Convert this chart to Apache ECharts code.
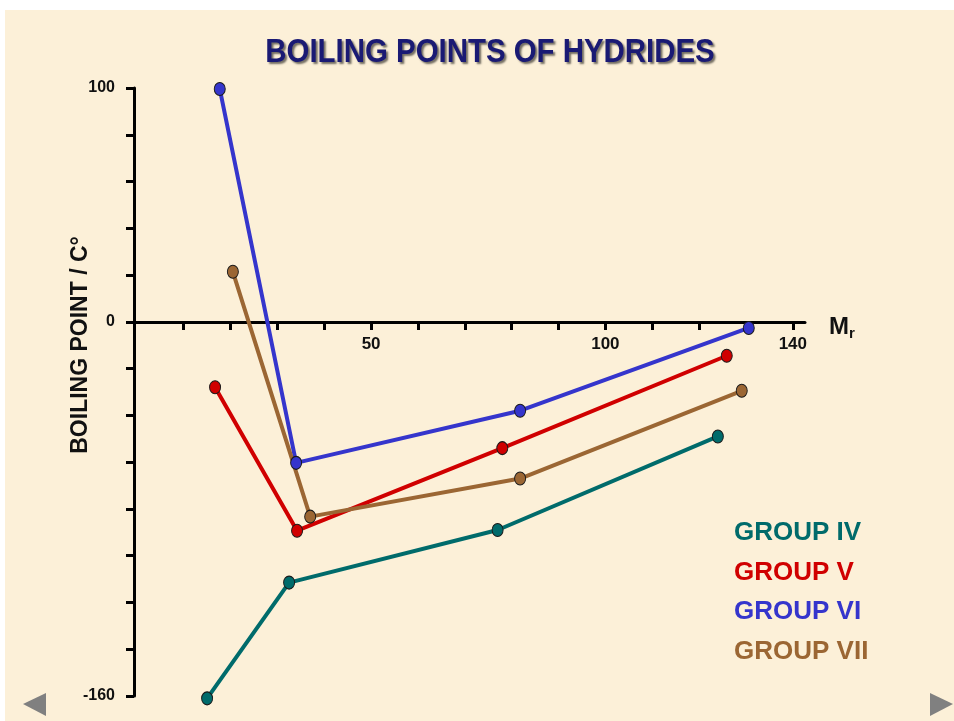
<!DOCTYPE html>
<html>
<head>
<meta charset="utf-8">
<script src="https://cdn.jsdelivr.net/npm/echarts@6/dist/echarts.min.js"></script>
<style>
  html, body { margin: 0; padding: 0; background: #fff; }
  #chart { width: 954px; height: 721px; }
</style>
</head>
<body>
<div id="chart"></div>
<script>
// boiling points of hydrides
const groupIV = [[15, -161], [32.5, -111.5], [77, -89], [124, -49]]
const groupV = [[16.7, -28], [34.2, -89.3], [78, -54], [125.9, -14.5]]
const groupVI = [[17.7, 99.6], [34, -60.3], [81.8, -38], [130.6, -2.6]]
const groupVII = [[20.5, 21.4], [37, -83.3], [81.8, -67], [129.1, -29.5]]
const groupNames = ['GROUP IV', 'GROUP V', 'GROUP VI', 'GROUP VII']
const groupColors = ['#006b6b', '#d00000', '#3535cc', '#9b6633']
const xTicks = [10, 20, 30, 40, 50, 60, 70, 80, 90, 100, 110, 120, 130, 140]
const xLabels = [50, 100, 140]
const yLabels = [100, 0, -160]

const chart = echarts.init(document.getElementById('chart'))

function makeSeries (name, data, color) {
  return {
    name: name,
    type: 'line',
    data: data,
    clip: false,
    symbol: 'circle',
    symbolSize: [11, 13],
    showSymbol: true,
    lineStyle: { width: 4, color: color },
    itemStyle: { color: color, borderColor: '#1a1a1a', borderWidth: 1 },
    emphasis: { disabled: true },
    z: 3
  }
}

const option = {
  backgroundColor: '#ffffff',
  animation: false,
  graphic: [
    {
      type: 'rect',
      z: -10,
      silent: true,
      shape: { x: 5, y: 10, width: 949, height: 711 },
      style: { fill: '#fcf0d8' }
    },
    {
      type: 'text',
      x: 490,
      y: 53,
      scaleX: 0.865,
      originX: 0,
      style: {
        text: 'BOILING POINTS OF HYDRIDES',
        fill: '#1a1a74',
        font: 'bold 34px "Liberation Sans", Arial, sans-serif',
        align: 'center',
        verticalAlign: 'middle',
        textShadowColor: 'rgba(0,0,0,0.55)',
        textShadowOffsetX: 2,
        textShadowOffsetY: 2,
        textShadowBlur: 2
      }
    },
    {
      type: 'text',
      x: 81,
      y: 345,
      rotation: Math.PI / 2,
      style: {
        text: 'BOILING POINT / C°',
        fill: '#111',
        font: 'bold 23px "Liberation Sans", Arial, sans-serif',
        align: 'center',
        verticalAlign: 'middle'
      }
    },
    {
      type: 'text',
      x: 829,
      y: 313,
      style: {
        rich: {
          m: { font: 'bold 24px "Liberation Sans", Arial, sans-serif', fill: '#111' },
          r: { font: 'bold 15px "Liberation Sans", Arial, sans-serif', fill: '#111', padding: [13, 0, 0, 0] }
        },
        text: '{m|M}{r|r}'
      }
    },
    {
      type: 'polygon',
      shape: { points: [[23, 704], [46, 693], [46, 716]] },
      style: { fill: '#808080' }
    },
    {
      type: 'polygon',
      shape: { points: [[953, 704], [930, 693], [930, 716]] },
      style: { fill: '#808080' }
    }
  ],
  legend: {
    orient: 'vertical',
    left: 724,
    top: 513,
    icon: 'none',
    itemWidth: 0,
    itemHeight: 0,
    itemGap: 9.5,
    selectedMode: false,
    textStyle: {
      fontSize: 26,
      fontWeight: 'bold',
      fontFamily: '"Liberation Sans", Arial, sans-serif',
      lineHeight: 30
    },
    data: groupNames.map((n, i) => ({ name: n, textStyle: { color: groupColors[i] } }))
  },
  grid: {
    left: 134,
    right: 954 - 805,
    top: 88,
    bottom: 721 - 696,
    containLabel: false
  },
  xAxis: {
    type: 'value',
    min: -0.6,
    max: 142.6,
    // sits on y = 0 (offset upward from grid bottom)
    offset: -(696 - 322),
    axisLine: { onZero: false, lineStyle: { color: '#000', width: 3 } },
    axisTick: {
      show: true,
      inside: false,
      length: 8,
      customValues: xTicks,
      lineStyle: { color: '#000', width: 3 }
    },
    axisLabel: {
      customValues: xLabels,
      color: '#111',
      fontSize: 17,
      fontWeight: 'bold',
      fontFamily: '"Liberation Sans", Arial, sans-serif',
      margin: 14
    },
    splitLine: { show: false }
  },
  yAxis: {
    type: 'value',
    min: -160,
    max: 100,
    interval: 20,
    axisLine: { onZero: false, lineStyle: { color: '#000', width: 3 } },
    axisTick: { show: true, inside: false, length: 8, lineStyle: { color: '#000', width: 3 } },
    axisLabel: {
      color: '#111',
      fontSize: 16,
      fontWeight: 'bold',
      fontFamily: '"Liberation Sans", Arial, sans-serif',
      margin: 19,
      formatter: v => (yLabels.indexOf(v) >= 0 ? String(v) : '')
    },
    splitLine: { show: false }
  },
  series: [
    makeSeries(groupNames[0], groupIV, groupColors[0]),
    makeSeries(groupNames[1], groupV, groupColors[1]),
    makeSeries(groupNames[2], groupVI, groupColors[2]),
    makeSeries(groupNames[3], groupVII, groupColors[3])
  ]
}

chart.setOption(option)
</script>
</body>
</html>
